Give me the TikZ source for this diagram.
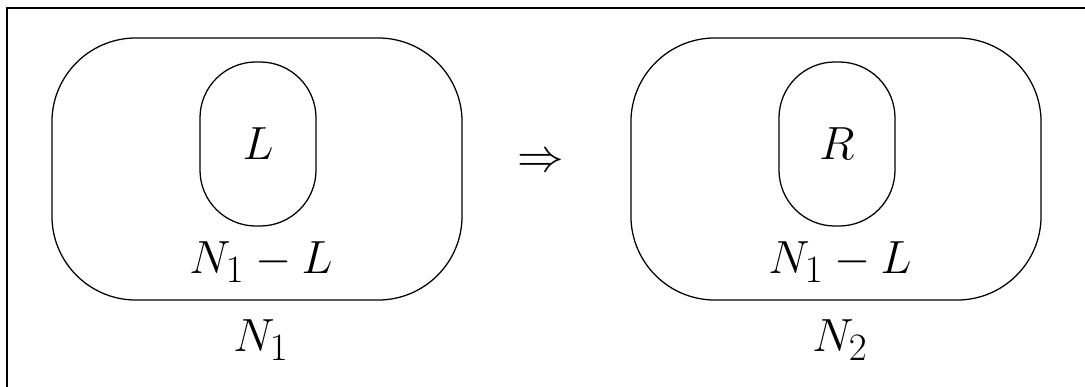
\documentclass[tikz,border=0pt]{standalone}
\usetikzlibrary{positioning}

\begin{document}
\begin{tikzpicture}[x=0.025cm,y=-0.025cm,node distance=0.5cm, ob/.style={draw,line width=0.9pt,rounded corners=2.1cm,minimum width=10.25cm,minimum height=6.55cm}, ib/.style={draw,line width=0.9pt,rounded corners=1.4cm,minimum width=2.9cm,minimum height=4.1cm,inner sep=0pt}, t/.style={font=\Huge,scale=1.33,transform shape,inner sep=0pt}]
  \useasboundingbox (0,0) rectangle (1085,387);
  \draw[line width=1.6pt](7,387)--(7,8)--(1085,8);
  \foreach \s/\x/\a/\b in {l/257/L/N_1,r/836/R/N_2}{
    \node[ob](\s o) at (\x,169){};
    \node[ib](\s i) at (\x+1,144){};
    \node[t](\s t) at (\s i){$\a$};
    \node[t](\s m) at (\x+4,262){$N_1 - L$};
    \node[t](\s n) at (\x+4,340){$\b$};
  }
  \node[t](arr) at (541,163){$\Rightarrow$};
\end{tikzpicture}
\end{document}
